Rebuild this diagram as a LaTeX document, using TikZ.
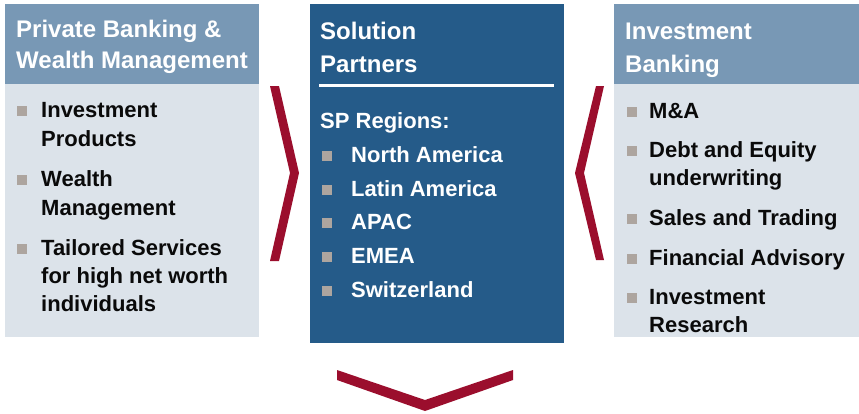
\documentclass[tikz,border=0pt]{standalone}
\usepackage{fontspec}
\setmainfont{Liberation Sans}
\usetikzlibrary{calc}
\definecolor{hdrblue}{HTML}{7898B5}
\definecolor{bodygrey}{HTML}{DCE3EA}
\definecolor{solblue}{HTML}{255B89}
\definecolor{crimson}{HTML}{9B0E2D}
\definecolor{bulgrey}{HTML}{ADA59F}
\definecolor{ink}{HTML}{0A0A0A}
\tikzset{
  panel/.style={draw=none, inner sep=0pt, outer sep=0pt, anchor=north west},
  headtext/.style={inner sep=0pt, anchor=base west, text=white,
    font=\fontsize{24bp}{28bp}\selectfont\bfseries},
  itemtext/.style={inner sep=0pt, anchor=base west, text=ink,
    font=\fontsize{22bp}{28bp}\selectfont\bfseries},
  regtext/.style={itemtext, text=white},
  bullet/.style={fill=bulgrey},
  chevron/.style={fill=crimson, draw=none}
}
\newcommand{\sqbullet}[2]{\fill[bullet] ($(#1.base west)+(#2,-1.5)$) rectangle ++(10,-10);}
\begin{document}
\begin{tikzpicture}[x=1bp,y=-1bp]
\useasboundingbox (0,0) rectangle (859,413);
\fill[white] (0,0) rectangle (859,413);

% panels
\node[panel, fill=hdrblue, minimum width=254bp, minimum height=80bp] (lhead) at (5,4) {};
\node[panel, fill=bodygrey, minimum width=254bp, minimum height=253bp] (lbody) at (5,84) {};
\node[panel, fill=solblue, minimum width=254bp, minimum height=339bp] (cbox) at (310,4) {};
\node[panel, fill=hdrblue, minimum width=245bp, minimum height=80bp] (rhead) at (614,4) {};
\node[panel, fill=bodygrey, minimum width=245bp, minimum height=253bp] (rbody) at (614,84) {};

% left column
\node[headtext] (lh1) at (16,37) {Private Banking \&};
\node[headtext] (lh2) at (16,68) {Wealth Management};
\node[itemtext] (l1a) at (41,117.5) {Investment};
\node[itemtext] (l1b) at (41,146.5) {Products};
\node[itemtext] (l2a) at (41,186) {Wealth};
\node[itemtext] (l2b) at (41,215) {Management};
\node[itemtext] (l3a) at (41,255) {Tailored Services};
\node[itemtext] (l3b) at (41,283) {for high net worth};
\node[itemtext] (l3c) at (41,311) {individuals};
\sqbullet{l1a}{-24}
\sqbullet{l2a}{-24}
\sqbullet{l3a}{-24}

% centre column
\node[headtext] (ch1) at (320,39) {Solution};
\node[headtext] (ch2) at (320,72) {Partners};
\draw[white, line width=3bp] (319,85) -- (554,85);
\node[regtext] (csp) at (320,128) {SP Regions:};
\node[regtext] (c1) at (351,162) {North America};
\node[regtext] (c2) at (351,196) {Latin America};
\node[regtext] (c3) at (351,229.5) {APAC};
\node[regtext] (c4) at (351,263.5) {EMEA};
\node[regtext] (c5) at (351,297.5) {Switzerland};
\foreach \n in {c1,c2,c3,c4,c5}{\sqbullet{\n}{-29}}

% right column
\node[headtext] (rh1) at (625,39) {Investment};
\node[headtext] (rh2) at (625,72) {Banking};
\node[itemtext] (r1) at (649,118) {M\&A};
\node[itemtext] (r2a) at (649,157) {Debt and Equity};
\node[itemtext] (r2b) at (649,185) {underwriting};
\node[itemtext] (r3) at (649,225) {Sales and Trading};
\node[itemtext] (r4) at (649,265) {Financial Advisory};
\node[itemtext] (r5a) at (649,304) {Investment};
\node[itemtext] (r5b) at (649,332) {Research};
\foreach \n in {r1,r2a,r3,r4,r5a}{\sqbullet{\n}{-22}}

% chevrons
\fill[chevron] (270,86) -- (279,86) -- (299,173) -- (279,261) -- (270,261) -- (290,173) -- cycle;
\fill[chevron] (596,86) -- (604,86) -- (584,173) -- (604,260) -- (596,260) -- (575,173) -- cycle;
\fill[chevron] (337,370) -- (425,400) -- (513,370) -- (513,380) -- (425,411) -- (337,380) -- cycle;
\end{tikzpicture}
\end{document}
